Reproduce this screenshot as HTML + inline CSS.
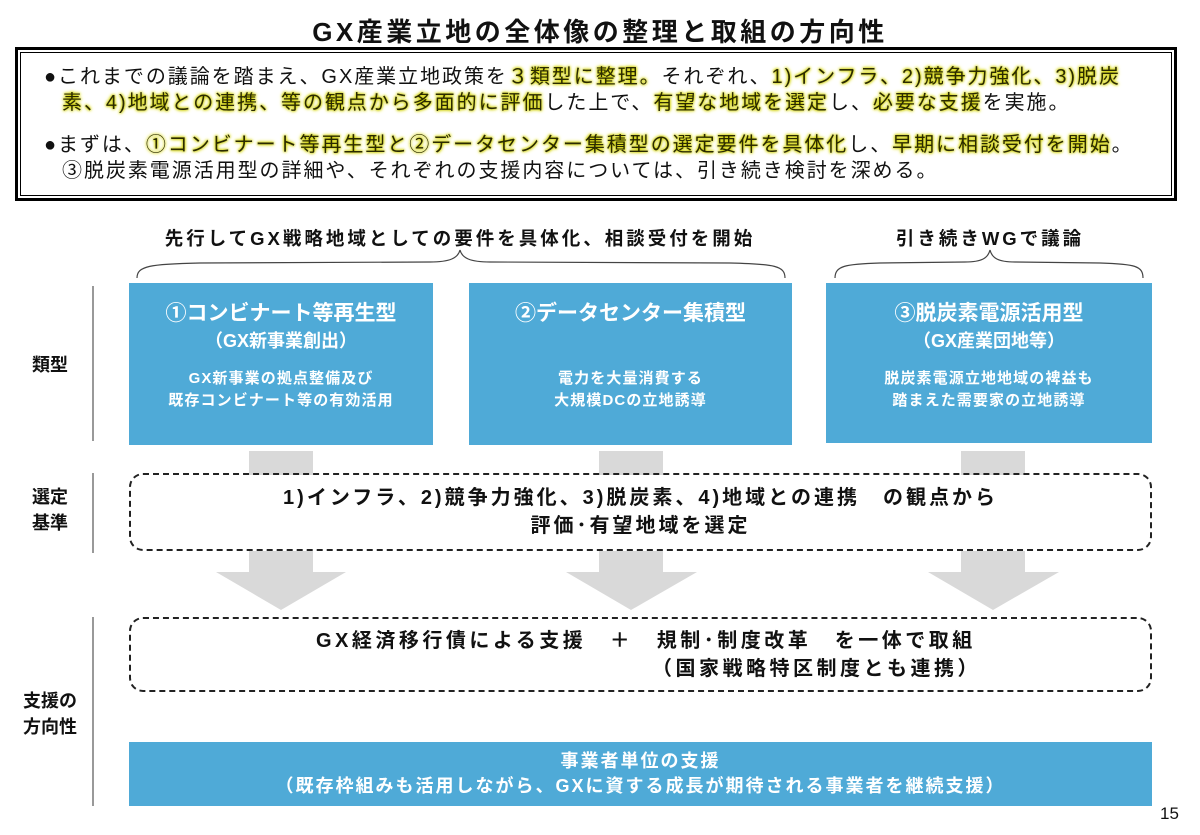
<!DOCTYPE html>
<html><head><meta charset="utf-8"><style>
*{margin:0;padding:0;box-sizing:border-box}
body{width:1200px;height:835px;background:#fff;position:relative;overflow:hidden;font-family:"Liberation Sans","Noto Sans CJK JP",sans-serif;color:#111}
.a{position:absolute}
.t{white-space:nowrap}
.hl{text-shadow:0 0 2px #c8c800,0 0 3px #d8d800,0 0 4px #e0e020;color:#2a2a00}
.blue{background:#4faad7;color:#fff;text-align:center;font-weight:bold}
.dash{border:2.5px dashed #222;border-radius:14px}
.lbl{font-weight:bold;font-size:18px;text-align:center;line-height:26px}
.vl{width:2px;background:#999;left:92px}
</style></head><body>
<div class="a t" style="left:0;width:1200px;top:12px;text-align:center;font-size:26px;font-weight:bold;letter-spacing:3.5px">GX産業立地の全体像の整理と取組の方向性</div>

<div class="a" style="left:15px;top:47px;width:1162px;height:154px;border:3px solid #000;padding:2px">
<div style="width:100%;height:100%;border:1px solid #000"></div></div>
<div class="a t" style="left:44px;top:64px;font-size:20px;line-height:26px;letter-spacing:1.95px">
<div>●<span style="margin-left:0px"></span>これまでの議論を踏まえ、GX産業立地政策を<span class="hl">３類型に整理。</span>それぞれ、<span class="hl">1)インフラ、2)競争力強化、3)脱炭</span></div>
<div style="padding-left:18px"><span class="hl">素、4)地域との連携、等の観点から多面的に評価</span>した上で、<span class="hl">有望な地域を選定</span>し、<span class="hl">必要な支援</span>を実施。</div>
<div style="margin-top:16px">●<span style="margin-left:0px"></span>まずは、<span class="hl">①コンビナート等再生型と②データセンター集積型の選定要件を具体化</span>し、<span class="hl">早期に相談受付を開始</span>。</div>
<div style="padding-left:18px">③脱炭素電源活用型の詳細や、それぞれの支援内容については、引き続き検討を深める。</div>
</div>

<div class="a t" style="left:100px;width:720px;top:225px;text-align:center;font-size:18.5px;font-weight:bold;letter-spacing:3px">先行してGX戦略地域としての要件を具体化、相談受付を開始</div>
<div class="a t" style="left:840px;width:300px;top:225px;text-align:center;font-size:18.5px;font-weight:bold;letter-spacing:3px">引き続きWGで議論</div>
<svg class="a" style="left:0;top:0" width="1200" height="835">
<path d="M137 278 C137 266 150 264 200 263 L430 262 C450 262 458 258 460 250 C462 258 470 262 490 262 L730 263 C775 264 785 266 785 278" fill="none" stroke="#444" stroke-width="1.2"/>
<path d="M835 278 C835 266 845 264 880 263 L965 262 C982 262 988 258 990 250 C992 258 998 262 1015 262 L1100 263 C1135 264 1143 266 1143 278" fill="none" stroke="#444" stroke-width="1.2"/>
<g fill="#d9d9d9">
<rect x="249" y="451" width="64" height="24"/><rect x="599" y="451" width="64" height="24"/><rect x="961" y="451" width="64" height="24"/>
<path d="M249 551 H313 V572 H346 L281 610 L216 572 H249Z"/>
<path d="M599 551 H663 V572 H697 L631 610 L566 572 H599Z"/>
<path d="M961 551 H1025 V572 H1059 L993 610 L928 572 H961Z"/>
</g></svg>

<div class="a vl" style="top:286px;height:155px"></div>
<div class="a vl" style="top:473px;height:80px"></div>
<div class="a vl" style="top:617px;height:189px"></div>
<div class="a lbl" style="left:20px;width:60px;top:352px">類型</div>
<div class="a lbl" style="left:20px;width:60px;top:484px">選定<br>基準</div>
<div class="a lbl" style="left:10px;width:80px;top:688px">支援の<br>方向性</div>

<div class="a blue" style="left:129px;top:283px;width:304px;height:162px">
<div style="margin-top:17px;font-size:21px;line-height:28px">①コンビナート等再生型</div>
<div style="font-size:18px;line-height:26px">（GX新事業創出）</div>
<div style="margin-top:14px;font-size:15px;line-height:22px;letter-spacing:1.1px">GX新事業の拠点整備及び<br>既存コンビナート等の有効活用</div></div>
<div class="a blue" style="left:469px;top:283px;width:323px;height:162px">
<div style="margin-top:17px;font-size:21px;line-height:28px">②データセンター集積型</div>
<div style="margin-top:40px;font-size:15px;line-height:22px;letter-spacing:1.1px">電力を大量消費する<br>大規模DCの立地誘導</div></div>
<div class="a blue" style="left:826px;top:283px;width:326px;height:160px">
<div style="margin-top:17px;font-size:21px;line-height:28px">③脱炭素電源活用型</div>
<div style="font-size:18px;line-height:26px">（GX産業団地等）</div>
<div style="margin-top:14px;font-size:15px;line-height:22px;letter-spacing:1.1px">脱炭素電源立地地域の裨益も<br>踏まえた需要家の立地誘導</div></div>

<div class="a dash" style="left:129px;top:473px;width:1023px;height:78px"></div>
<div class="a t" style="left:129px;width:1023px;top:484px;text-align:center;font-size:20px;font-weight:bold;line-height:28px;letter-spacing:3px">1)インフラ、2)競争力強化、3)脱炭素、4)地域との連携　の観点から<br>評価･有望地域を選定</div>

<div class="a dash" style="left:129px;top:617px;width:1023px;height:75px"></div>
<div class="a t" style="left:316px;top:627px;font-size:20px;font-weight:bold;line-height:28px;letter-spacing:3.5px">GX経済移行債による支援　＋　規制･制度改革　を一体で取組</div>
<div class="a t" style="left:652px;top:655px;font-size:20px;font-weight:bold;line-height:28px;letter-spacing:3.5px">（国家戦略特区制度とも連携）</div>

<div class="a blue" style="left:129px;top:742px;width:1023px;height:64px;font-size:18px;line-height:25px;padding-top:7px;letter-spacing:2px">事業者単位の支援<br>（既存枠組みも活用しながら、GXに資する成長が期待される事業者を継続支援）</div>

<div class="a t" style="left:1160px;top:804px;font-size:17px">15</div>
</body></html>
